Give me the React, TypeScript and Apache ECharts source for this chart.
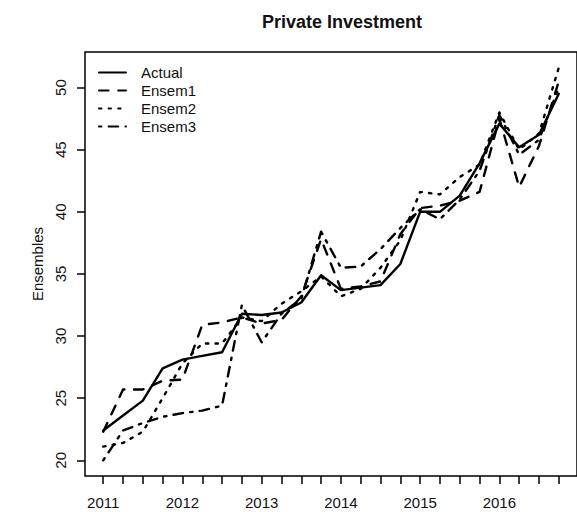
import React, { useEffect, useRef } from "react";
import * as echarts from "echarts";

const xValues = [
  2011, 2011.25, 2011.5, 2011.75, 2012, 2012.25, 2012.5, 2012.75,
  2013, 2013.25, 2013.5, 2013.75, 2014, 2014.25, 2014.5, 2014.75,
  2015, 2015.25, 2015.5, 2015.75, 2016, 2016.25, 2016.5, 2016.75,
];
const yearLabels = [2011, 2012, 2013, 2014, 2015, 2016];
const yTicks = [20, 25, 30, 35, 40, 45, 50];

const actual = [22.4, 23.6, 24.8, 27.4, 28.1, 28.4, 28.7, 31.8, 31.7, 31.9, 32.7, 34.9, 33.7, 33.9, 34.1, 35.8, 40.0, 40.0, 41.3, 43.9, 47.1, 45.2, 46.2, 49.5];
const ensem1 = [22.3, 25.7, 25.7, 26.4, 26.5, 30.9, 31.1, 31.5, 31.0, 31.3, 33.2, 37.8, 33.8, 34.0, 34.4, 38.2, 40.3, 40.5, 40.9, 41.6, 47.5, 42.0, 45.3, 50.5];
const ensem2 = [21.1, 21.4, 22.3, 25.0, 27.8, 29.4, 29.4, 31.5, 31.2, 32.6, 33.6, 34.8, 33.2, 33.8, 35.5, 37.7, 41.6, 41.4, 42.8, 43.8, 48.0, 45.0, 46.3, 51.6];
const ensem3 = [20.0, 22.4, 23.0, 23.5, 23.8, 24.0, 24.4, 32.5, 29.5, 31.8, 33.0, 38.4, 35.5, 35.6, 37.0, 38.7, 40.2, 39.4, 41.0, 43.3, 47.8, 44.6, 45.8, 50.0];

const seriesNames = ["Actual", "Ensem1", "Ensem2", "Ensem3"];
const seriesValues = [actual, ensem1, ensem2, ensem3];
const dashTypes: any[] = ["solid", [9.6, 9.6], [2.4, 7.2], [2.4, 7.2, 9.6, 7.2]];

const FONT = "'Liberation Sans', Arial, sans-serif";

export default function App() {
  const ref = useRef<HTMLDivElement>(null);
  useEffect(() => {
    if (!ref.current) return;
    const chart = echarts.init(ref.current, null, { renderer: "svg" });
    const all = seriesValues.flat();
    const dmin = Math.min(...all);
    const dmax = Math.max(...all);
    const ypad = (dmax - dmin) * 0.04;
    const xmin = xValues[0];
    const xmax = xValues[xValues.length - 1];
    const xpad = (xmax - xmin) * 0.04;

    chart.setOption({
      animation: false,
      backgroundColor: "#ffffff",
      textStyle: { fontFamily: FONT },
      title: {
        text: "Private Investment",
        left: 337,
        top: 8,
        textAlign: "center",
        textStyle: { fontFamily: FONT, fontSize: 18, fontWeight: "bold", color: "#111" },
      },
      legend: {
        orient: "vertical",
        left: 98,
        top: 65,
        itemWidth: 27,
        itemHeight: 14,
        itemGap: 3,
        padding: 0,
        data: seriesNames,
        itemStyle: { opacity: 0, borderWidth: 0 },
        textStyle: { fontFamily: FONT, fontSize: 15, color: "#111", padding: [0, 0, 0, 10] },
      },
      grid: {
        left: 85,
        top: 52,
        width: 504,
        height: 424,
        show: true,
        borderColor: "#000",
        borderWidth: 1.5,
        backgroundColor: "transparent",
      },
      xAxis: {
        type: "value",
        min: xmin - xpad,
        max: xmax + xpad,
        axisLine: { show: false },
        splitLine: { show: false },
        axisTick: {
          show: true,
          length: 8,
          customValues: xValues,
          lineStyle: { color: "#000", width: 1.5 },
        },
        axisLabel: {
          customValues: yearLabels,
          formatter: (v: number) => String(Math.round(v)),
          fontFamily: FONT,
          fontSize: 15,
          color: "#111",
          margin: 19,
        },
      },
      yAxis: {
        type: "value",
        min: dmin - ypad,
        max: dmax + ypad,
        name: "Ensembles",
        nameLocation: "middle",
        nameRotate: 90,
        nameGap: 40,
        nameTextStyle: { fontFamily: FONT, fontSize: 15, color: "#111" },
        axisLine: { show: false },
        splitLine: { show: false },
        axisTick: {
          show: true,
          length: 8,
          customValues: yTicks,
          lineStyle: { color: "#000", width: 1.5 },
        },
        axisLabel: {
          customValues: yTicks,
          rotate: 90,
          fontFamily: FONT,
          fontSize: 15,
          color: "#111",
          margin: 17,
        },
      },
      series: seriesNames.map((name, k) => ({
        name,
        type: "line",
        symbol: "none",
        data: xValues.map((x, i) => [x, seriesValues[k][i]]),
        lineStyle: { color: "#000", width: 2.4, type: dashTypes[k], cap: "round", join: "round" },
        itemStyle: { color: "#000" },
      })),
    });
    return () => chart.dispose();
  }, []);
  return (
    <div
      ref={ref}
      style={{ position: "absolute", left: 0, top: 0, width: 577, height: 512, background: "#fff" }}
    />
  );
}
